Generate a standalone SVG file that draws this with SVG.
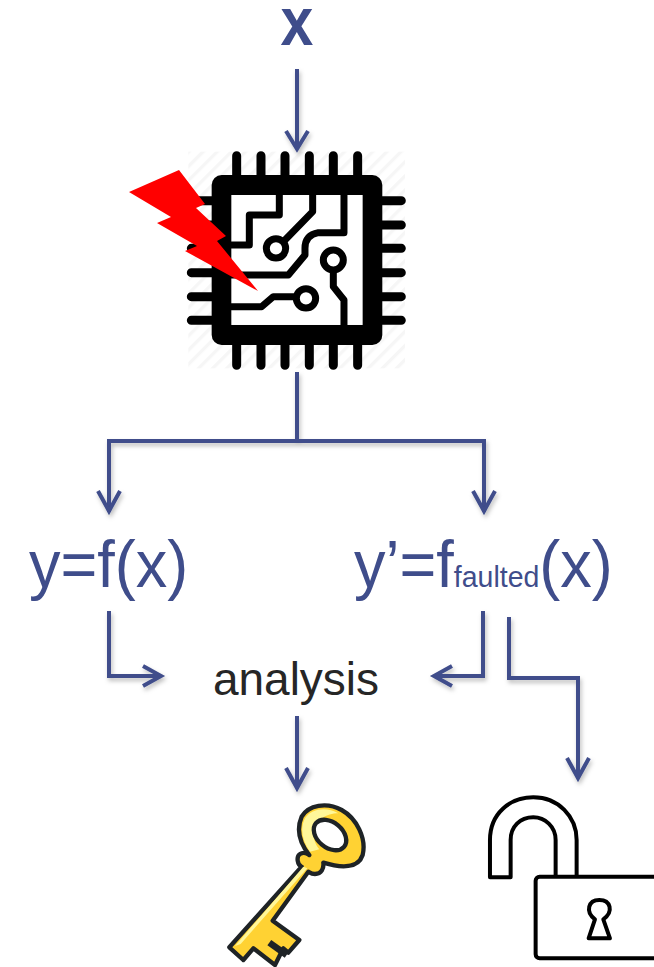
<svg xmlns="http://www.w3.org/2000/svg" width="654" height="967" viewBox="0 0 654 967">
<style>
.c{fill:none;stroke:#3f4d8b;stroke-width:4;stroke-linejoin:miter}
.t{font-family:"Liberation Sans",Arial,sans-serif;fill:#3f4d8b;font-size:63px}
.m{fill:none;stroke:#000;stroke-width:21;stroke-linecap:round;stroke-linejoin:round}
.k{stroke:#1e2326;stroke-width:13;stroke-linejoin:round}
.l{fill:#fff;stroke:#000;stroke-width:12;stroke-linejoin:round}
</style>
<defs>
<pattern id="h" width="30" height="30" patternUnits="userSpaceOnUse" patternTransform="rotate(45)"><rect width="10" height="30" fill="#f6f6f6"/></pattern>
<filter id="s" x="-10%" y="-10%" width="120%" height="120%"><feDropShadow dx="1.5" dy="3" stdDeviation="2" flood-color="#000" flood-opacity=".25"/></filter>
</defs>
<rect width="654" height="967" fill="#fff"/>
<g id="input"><text class="t" transform="translate(297,45) scale(1,1.15)" text-anchor="middle" style="font-weight:700;font-size:59px">x</text></g>
<g id="chip" transform="translate(170,140) scale(.3333)">
<rect x="55" y="35" width="650" height="650" fill="url(#h)"/>
<g stroke="#000" stroke-width="27" stroke-linecap="round">
<path d="M200 47V120M273 47V120M345 47V120M418 47V120M490 47V120M563 47V120"/>
<path d="M200 600V676M273 600V676M345 600V676M418 600V676M490 600V676M563 600V676"/>
<path d="M64 182H140M64 255H140M64 325H140M64 398H140M64 470H140M64 541H140"/>
<path d="M620 182H694M620 255H694M620 325H694M620 398H694M620 470H694M620 541H694"/>
</g>
<rect x="125" y="105" width="512" height="510" rx="30" fill="#000"/>
<rect x="184" y="165" width="394" height="390" fill="#fff"/>
<path class="m" d="M328 165V225H238V315H184"/>
<path class="m" d="M428 165V215L345 300"/>
<circle class="m" cx="318" cy="325" r="29"/>
<path class="m" d="M522 165V278H445Q405 285 405 325V345L355 405H184"/>
<circle class="m" cx="490" cy="360" r="30"/>
<path class="m" d="M490 400V440L522 480V555"/>
<circle class="m" cx="408" cy="475" r="29"/>
<path class="m" d="M370 470H310L275 500H184"/>
</g>
<g id="fault"><polygon fill="#f00" points="129,192 179,170 205,204 196,208 226,236 217,241 258,291 185,251 197,246 157,223 171,217"/></g>
<g id="connectors" filter="url(#s)">
<path class="c" d="M297 69V148M286 131L297 149L308 131"/>
<path class="c" d="M297 372V441M109 512V441H484V512"/>
<path class="c" d="M98 491L109 511L120 491M473 491L484 511L495 491"/>
<path class="c" d="M109 611V676H160M143 666L161 676L143 686"/>
<path class="c" d="M483 611V676H434M452 666L434 676L452 686"/>
<path class="c" d="M509 617V678H578V778M567 758L578 778L589 758"/>
<path class="c" d="M297 716V788M286 768L297 788L308 768"/>
</g>
<g id="fx"><text class="t" transform="translate(29,587) scale(1,1.05)">y=f(x)</text></g>
<g id="ffaulted"><text class="t" transform="translate(354,587) scale(1,1.05)">y’=f<tspan font-size="28.5">faulted</tspan>(x)</text></g>
<g id="analysis"><text x="296" y="695" text-anchor="middle" font-family="'Liberation Sans',Arial,sans-serif" font-size="46" fill="#262626">analysis</text></g>
<g id="key" transform="translate(220,800) scale(.3333)">
<path class="k" fill="#ffd233" d="M268 165C240 130 228 90 245 50C265 15 320 5 365 30C410 55 440 115 428 165C415 205 365 205 310 188C312 205 305 222 285 222C275 222 270 218 265 215L158 362L238 420L205 458L190 445L165 495L100 445L70 480L28 442L245 200C232 195 228 170 240 162C250 155 262 160 268 165Z"/>
<path fill="#fff79a" d="M270 155C245 120 240 85 255 55C275 25 320 20 355 40C320 40 285 60 280 100C280 120 290 140 298 148ZM250 200L262 205L62 432L45 438Z"/>
<ellipse cx="330" cy="105" rx="55" ry="38" transform="rotate(40 330 105)" fill="#fff" stroke="#1e2326" stroke-width="13"/>
<path fill="none" stroke="#1e2326" stroke-width="20" d="M148 428L200 465"/>
</g>
<g id="lock" transform="translate(210,790) scale(.3333)">
<path class="l" d="M840 262V150C840 70 900 22 970 22C1045 22 1100 80 1100 150V262H1037V150C1037 110 1005 82 970 82C930 82 902 110 902 150V262Z"/>
<rect class="l" x="977" y="260" width="400" height="245" rx="12"/>
<path class="l" d="M1155 388C1125 365 1135 330 1168 330C1202 330 1212 365 1180 388L1200 445H1136Z"/>
</g>
</svg>
